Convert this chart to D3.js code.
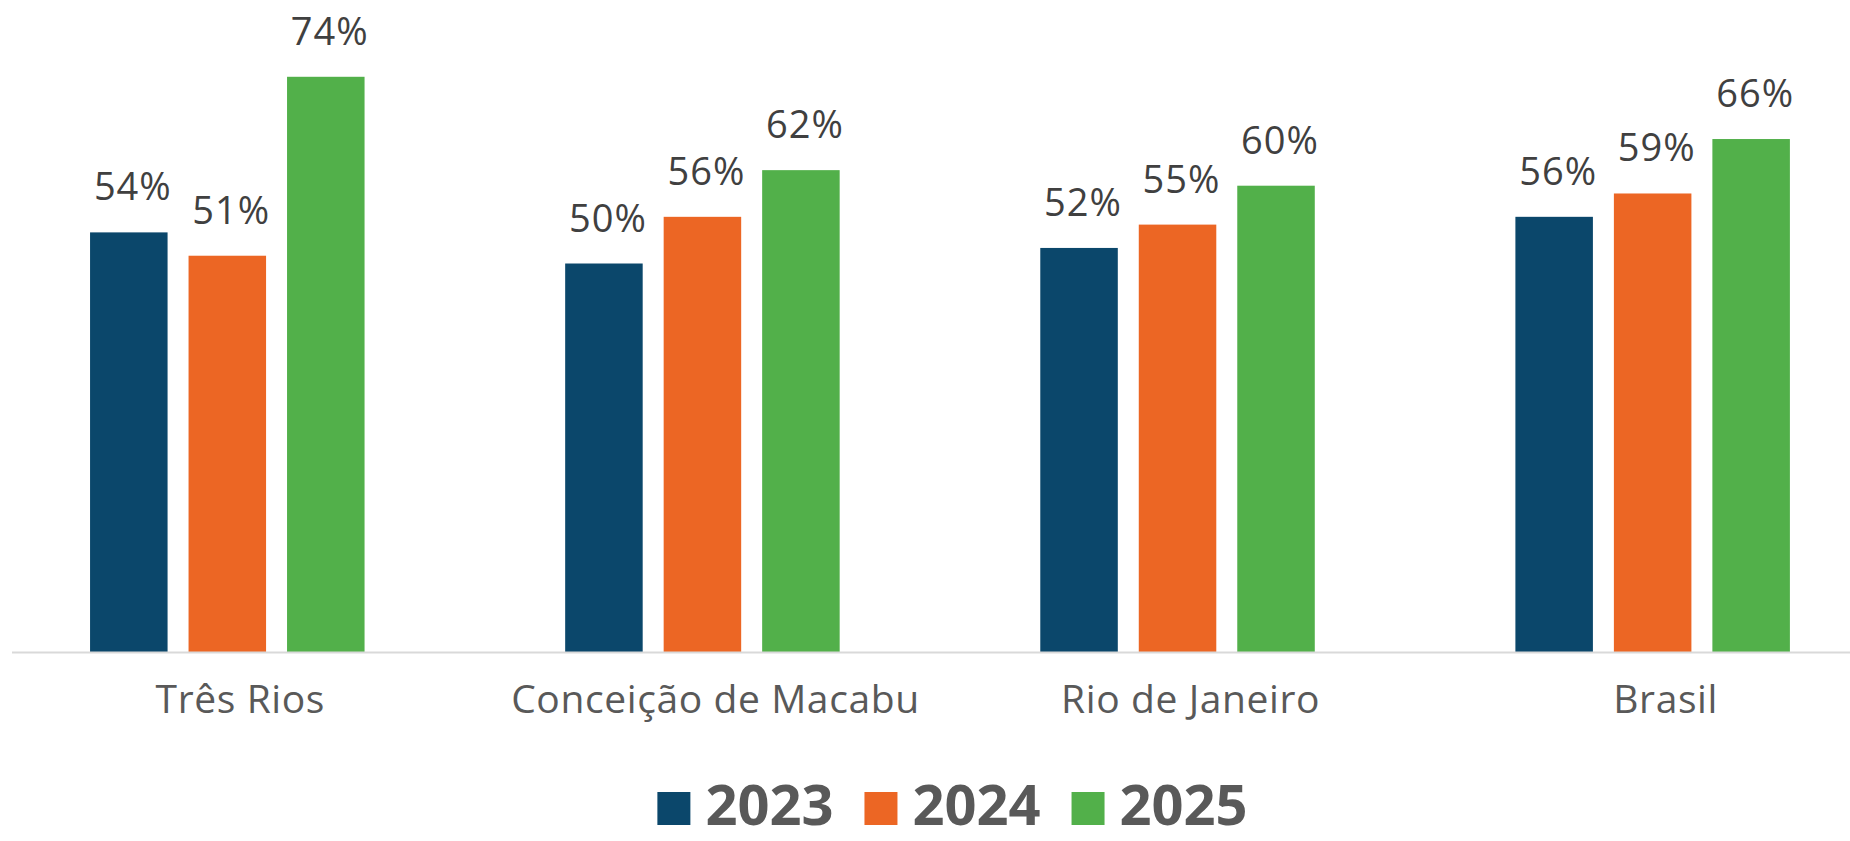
<!DOCTYPE html>
<html>
<head>
<meta charset="utf-8">
<script src="https://cdn.jsdelivr.net/npm/d3@7/dist/d3.min.js"></script>
<style>
  html, body { margin: 0; padding: 0; background: #ffffff; }
  svg { display: block; }
  text { font-family: "Open Sans", "Noto Sans", sans-serif; }
</style>
</head>
<body>
<svg id="chart" width="1850" height="841"></svg>
<script>
// ---- data ----
const categories = ["Três Rios", "Conceição de Macabu", "Rio de Janeiro", "Brasil"];
const years = ["2023", "2024", "2025"];
const values2023 = [0.54, 0.50, 0.52, 0.56];
const values2024 = [0.51, 0.56, 0.55, 0.59];
const values2025 = [0.74, 0.62, 0.60, 0.66];
const seriesColors = ["#0B476B", "#EC6624", "#52B04A"];

const seriesValues = [values2023, values2024, values2025];
const rows = [];
categories.forEach((c, ci) => {
  years.forEach((y, yi) => rows.push({ category: c, year: y, value: seriesValues[yi][ci] }));
});

const svg = d3.select("#chart");
const baseline = 652.5;

const x0 = d3.scaleBand().domain(categories).range([-10.25, 1890.2]).padding(0);
const x1 = d3.scaleBand().domain(years).range([-137.25, 137.25]).paddingInner(0.213).paddingOuter(0);
const y = d3.scaleLinear().domain([0, 0.8387]).range([baseline, 0]);
const color = d3.scaleOrdinal().domain(years).range(seriesColors);
const fmt = d3.format(".0%");

const center = c => x0(c) + x0.bandwidth() / 2;

// bars
svg.append("g").selectAll("rect").data(rows).join("rect")
  .attr("x", d => center(d.category) + x1(d.year))
  .attr("y", d => y(d.value))
  .attr("width", x1.bandwidth())
  .attr("height", d => baseline - y(d.value))
  .attr("fill", d => color(d.year));

// value labels
svg.append("g").selectAll("text").data(rows).join("text")
  .attr("x", d => center(d.category) + x1(d.year) + x1.bandwidth() / 2 + 4)
  .attr("y", d => y(d.value) - 32)
  .attr("text-anchor", "middle")
  .attr("font-size", 38)
  .attr("letter-spacing", 1)
  .attr("fill", "#404040")
  .text(d => fmt(d.value));

// baseline axis line
svg.append("line")
  .attr("x1", 12).attr("x2", 1850)
  .attr("y1", baseline).attr("y2", baseline)
  .attr("stroke", "#D9D9D9").attr("stroke-width", 2);

// category axis
const axis = d3.axisBottom(x0).tickSize(0).tickPadding(0);
const gAxis = svg.append("g").attr("transform", `translate(0,${baseline})`).call(axis);
gAxis.select(".domain").remove();
gAxis.selectAll(".tick text")
  .attr("dy", 0)
  .attr("y", 713 - baseline)
  .attr("x", 13)
  .attr("font-size", 39)
  .attr("letter-spacing", 0.6)
  .attr("font-family", "'Open Sans', 'Noto Sans', sans-serif")
  .attr("fill", "#595959");

// legend
const legend = svg.append("g");
const items = legend.selectAll("g").data(years).join("g");
items.append("rect")
  .attr("width", 33).attr("height", 33)
  .attr("y", -33)
  .attr("fill", d => color(d));
items.append("text")
  .attr("x", 48).attr("y", 0)
  .attr("font-size", 56)
  .attr("font-weight", "bold")
  .attr("fill", "#595959")
  .text(d => d);
let offset = 0;
const widths = [];
items.each(function() {
  const w = 48 + d3.select(this).select("text").node().getComputedTextLength();
  widths.push(w);
});
items.attr("transform", (d, i) => {
  const t = `translate(${offset},0)`;
  offset += widths[i] + 31;
  return t;
});
const total = offset - 31;
legend.attr("transform", `translate(${952.5 - total / 2},825)`);
</script>
</body>
</html>
